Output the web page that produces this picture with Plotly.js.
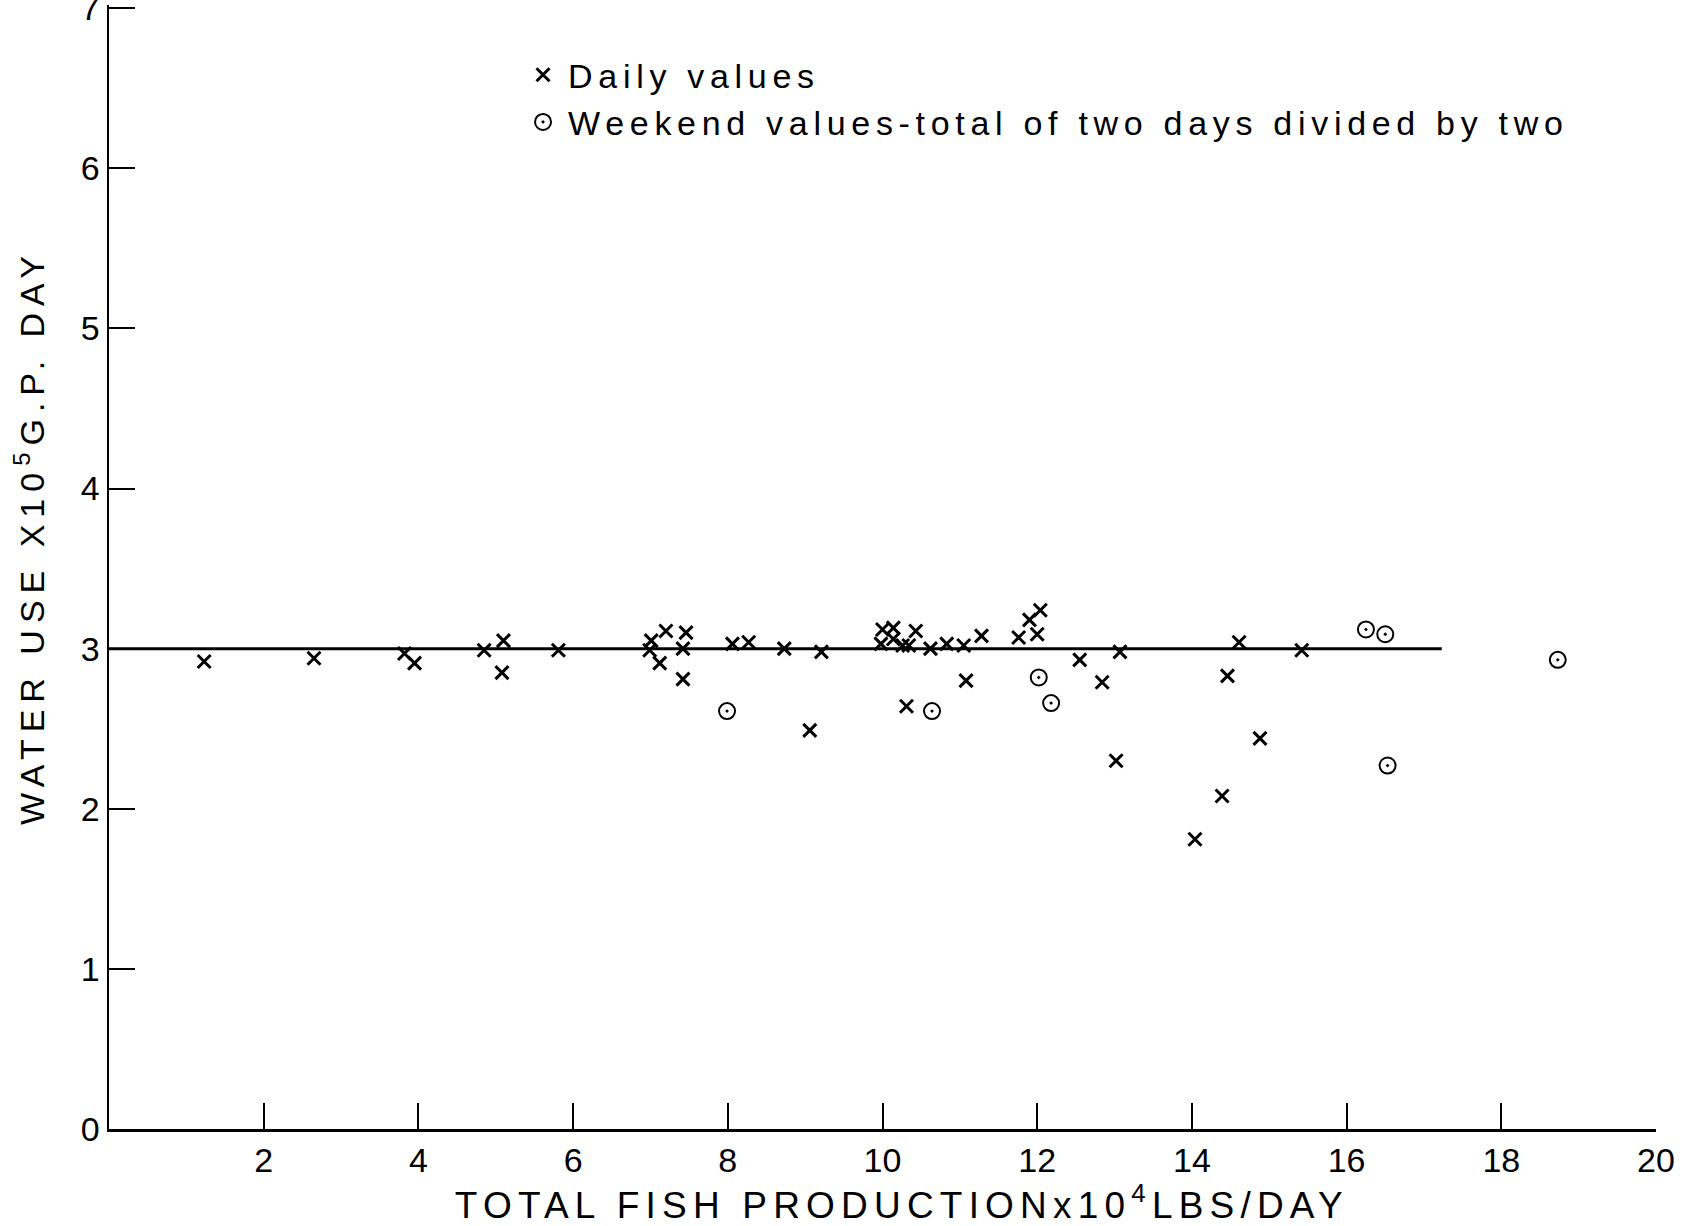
<!DOCTYPE html>
<html>
<head>
<meta charset="utf-8">
<script src="https://cdn.plot.ly/plotly-3.0.1.min.js"></script>
<style>
  html, body { margin: 0; padding: 0; background: #fff; }
  #chart { width: 1694px; height: 1226px; }
  .legendtext { letter-spacing: 5.7px; }
  .annotation[data-index="0"] text { letter-spacing: 6.2px; }
  .annotation[data-index="1"] text { letter-spacing: 7px; }
</style>
</head>
<body>
<div id="chart"></div>
<script>
// Daily values (x = total fish production x10^4 lbs/day, y = water use x10^5 g.p. day)
const dailyX = [1.23, 2.65, 3.82, 3.95, 4.85, 5.10, 5.08, 5.81, 7.01, 6.99, 7.12, 7.20, 7.46, 7.42, 7.42,
  8.06, 8.27, 8.73, 9.06, 9.21, 10.00, 9.98, 10.14, 10.14, 10.26, 10.34, 10.43, 10.31, 10.62, 10.83,
  11.05, 11.08, 11.28, 11.76, 11.90, 12.04, 12.00, 12.55, 12.84, 13.07, 13.02, 14.61, 15.42, 14.46,
  14.88, 14.39, 14.04];
const dailyY = [2.92, 2.94, 2.97, 2.91, 2.99, 3.05, 2.85, 2.99, 3.05, 2.99, 2.91, 3.11, 3.10, 3.00, 2.81,
  3.03, 3.04, 3.00, 2.49, 2.98, 3.12, 3.03, 3.13, 3.06, 3.02, 3.02, 3.11, 2.64, 3.00, 3.03,
  3.02, 2.80, 3.08, 3.07, 3.18, 3.24, 3.09, 2.93, 2.79, 2.98, 2.30, 3.04, 2.99, 2.83,
  2.44, 2.08, 1.81];

// Weekend values - total of two days divided by two
const weekendX = [7.99, 10.64, 12.02, 12.18, 16.25, 16.50, 16.53, 18.73];
const weekendY = [2.61, 2.61, 2.82, 2.66, 3.12, 3.09, 2.27, 2.93];

// Fitted line
const lineX = [0, 17.23];
const lineY = [3.0, 3.0];

// Ticks and labels
const xTicks = [2, 4, 6, 8, 10, 12, 14, 16, 18, 20];
const yTicks = [0, 1, 2, 3, 4, 5, 6, 7];
const xTitle = 'TOTAL FISH PRODUCTIONx10<sup>4</sup>LBS/DAY';
const yTitle = 'WATER USE X10<sup>5</sup>G.P. DAY';

const FONT = '"Liberation Sans", Arial, Helvetica, sans-serif';

const traces = [
  {
    x: lineX, y: lineY, mode: 'lines', type: 'scatter',
    line: { color: '#000', width: 3 }, showlegend: false, hoverinfo: 'skip'
  },
  {
    x: dailyX, y: dailyY, mode: 'markers', type: 'scatter', name: 'Daily values',
    marker: { symbol: 'x-thin-open', size: 13, color: '#000', line: { color: '#000', width: 3 } }
  },
  {
    x: weekendX, y: weekendY, mode: 'markers', type: 'scatter',
    name: 'Weekend values-total of two days divided by two',
    marker: { symbol: 'circle-open-dot', size: 16, color: '#000', line: { color: '#000', width: 2 } }
  }
];

const layout = {
  width: 1694, height: 1226,
  margin: { l: 109, r: 38, t: 5, b: 97 },
  paper_bgcolor: '#fff', plot_bgcolor: '#fff',
  font: { family: FONT, color: '#000', size: 34 },
  showlegend: true,
  legend: {
    x: 0.2644, y: 0.9634, xanchor: 'left', yanchor: 'top',
    font: { family: FONT, size: 34, color: '#000' },
    bgcolor: 'rgba(0,0,0,0)', borderwidth: 0,
    tracegroupgap: 0, itemsizing: 'trace', itemwidth: 40
  },
  xaxis: {
    range: [0, 20], tickvals: xTicks, ticktext: xTicks.map(String),
    ticks: 'inside', ticklen: 26, tickwidth: 2, tickcolor: '#000',
    showline: true, linecolor: '#000', linewidth: 2.5,
    showgrid: false, zeroline: false,
    tickfont: { family: FONT, size: 34, color: '#000' }
  },
  yaxis: {
    range: [0, 7.02], tickvals: yTicks, ticktext: yTicks.map(String),
    ticks: 'inside', ticklen: 26, tickwidth: 2, tickcolor: '#000',
    showline: true, linecolor: '#000', linewidth: 2.5,
    showgrid: false, zeroline: false, ticklabeloverflow: 'allow',
    tickfont: { family: FONT, size: 34, color: '#000' }
  },
  annotations: [
    {
      text: xTitle, xref: 'paper', yref: 'paper', x: 0.5126, y: -0.0650,
      xanchor: 'center', yanchor: 'middle', showarrow: false,
      font: { family: FONT, size: 37, color: '#000' }
    },
    {
      text: yTitle, xref: 'paper', yref: 'paper', x: -0.0510, y: 0.5267,
      xanchor: 'center', yanchor: 'middle', showarrow: false, textangle: -90,
      font: { family: FONT, size: 34, color: '#000' }
    }
  ]
};

Plotly.newPlot('chart', traces, layout, { displayModeBar: false, staticPlot: true });
</script>
</body>
</html>
